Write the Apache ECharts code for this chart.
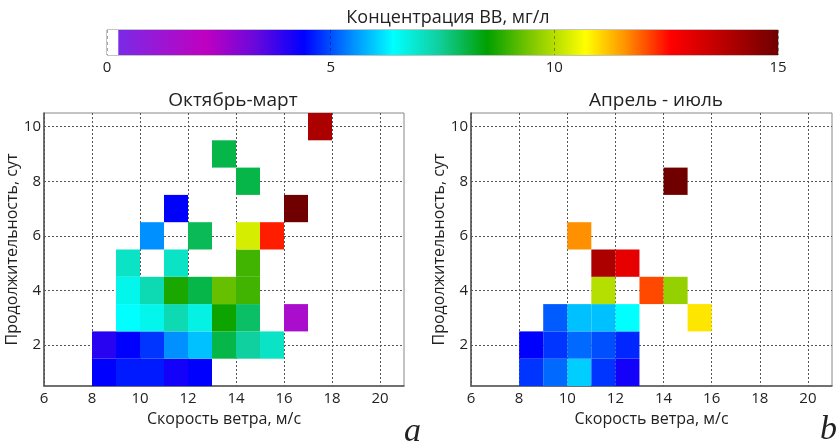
<!DOCTYPE html>
<html><head><meta charset="utf-8">
<script src="https://cdn.jsdelivr.net/npm/echarts@6/dist/echarts.min.js"></script>
<style>html,body{margin:0;padding:0;background:#fff}#c{width:840px;height:442px}</style>
</head><body><div id="c"></div>
<script>
// Tick labels
const xTicks = [6, 8, 10, 12, 14, 16, 18, 20];
const yTicks = [2, 4, 6, 8, 10];
const cbTicks = [0, 5, 10, 15];
// Cells: [wind speed bin start (m/s), duration (days), concentration (mg/l)]
const winterCells = [
  [8,1,4.4],[9,1,4.6],[10,1,4.6],[11,1,4.2],[12,1,4.4],
  [8,2,4.0],[9,2,4.4],[10,2,4.8],[11,2,5.5],[12,2,5.9],[13,2,8.0],[14,2,7.4],[15,2,7.0],
  [9,3,6.4],[10,3,6.6],[11,3,7.2],[12,3,6.7],[13,3,8.6],[14,3,7.8],[16,3,1.6],
  [9,4,6.6],[10,4,7.2],[11,4,8.7],[12,4,8.0],[13,4,9.3],[14,4,9.0],
  [9,5,7.0],[11,5,7.0],[14,5,9.0],
  [10,6,5.5],[12,6,7.9],[14,6,10.3],[15,6,12.4],
  [11,7,4.4],[16,7,15.0],
  [14,8,8.0],
  [13,9,8.0],
  [17,10,14.0]
];
const summerCells = [
  [8,1,4.8],[9,1,5.2],[10,1,6.0],[11,1,4.8],[12,1,4.2],
  [8,2,4.4],[9,2,4.8],[10,2,5.2],[11,2,5.0],[12,2,4.7],
  [9,3,5.1],[10,3,5.9],[11,3,5.9],[12,3,6.4],[15,3,10.9],
  [11,4,10.0],[13,4,12.1],[14,4,9.7],
  [11,5,14.0],[12,5,13.0],
  [10,6,11.6],
  [14,8,15.0]
];
// Colour scale: [value, colour]
const colourStops = [
  [0,'#ffffff'],[0.25,'#ffffff'],[0.26,'#7a2ae6'],[2.2,'#c000c0'],[3.3,'#6a08dc'],
  [4.4,'#0000ff'],[5.5,'#0090ff'],[6.4,'#00ffff'],[7.4,'#10d0a0'],[8.5,'#00a000'],
  [9.5,'#80c800'],[10.7,'#ffff00'],[11.6,'#ff9000'],[12.6,'#ff0000'],[15,'#700000']
];
const vMax = 15;

function hex2rgb(h){return [parseInt(h.slice(1,3),16),parseInt(h.slice(3,5),16),parseInt(h.slice(5,7),16)];}
function colourOf(v){
  if (v <= colourStops[0][0]) return colourStops[0][1];
  for (let i = 1; i < colourStops.length; i++) {
    if (v <= colourStops[i][0]) {
      const a = colourStops[i-1], b = colourStops[i];
      const t = (v - a[0]) / (b[0] - a[0]);
      const ca = hex2rgb(a[1]), cb = hex2rgb(b[1]);
      const c = ca.map((x, k) => Math.round(x + (cb[k] - x) * t));
      return 'rgb(' + c.join(',') + ')';
    }
  }
  return colourStops[colourStops.length-1][1];
}

const FONT = 'Open Sans';
const txt = '#222';

function renderCell(params, api){
  const x = api.value(0), y = api.value(1), v = api.value(2);
  const p0 = api.coord([x, y + 0.5]);
  const p1 = api.coord([x + 1, y - 0.5]);
  return {type:'rect', shape:{x:p0[0], y:p0[1], width:p1[0]-p0[0], height:p1[1]-p0[1]}, style:{fill: colourOf(v)}};
}

function xAxisFor(idx){
  return {
    type:'value', gridIndex:idx, min:6, max:21,
    name:'Скорость ветра, м/с', nameLocation:'middle', nameGap:25,
    nameTextStyle:{fontFamily:FONT, fontSize:16, color:txt},
    axisLine:{show:true, lineStyle:{color:'#555', width:1.5}},
    axisTick:{show:false, customValues:xTicks},
    axisLabel:{customValues:xTicks, fontFamily:FONT, fontSize:15, color:txt, margin:5},
    splitLine:{show:true, lineStyle:{color:'#555', type:[2,2], width:1}}
  };
}
function yAxisFor(idx){
  return {
    type:'value', gridIndex:idx, min:0.5, max:10.5,
    name:'Продолжительность, сут', nameLocation:'middle', nameGap:22,
    nameTextStyle:{fontFamily:FONT, fontSize:16, color:txt},
    axisLine:{show:true, lineStyle:{color:'#555', width:1.5}},
    axisTick:{show:false, customValues:yTicks},
    axisLabel:{customValues:yTicks, fontFamily:FONT, fontSize:15, color:txt, margin:3},
    splitLine:{show:true, lineStyle:{color:'#555', type:[2,2], width:1}}
  };
}

const gradStops = colourStops.map(s => ({offset: s[0] / vMax, color: s[1]}));

const option = {
  animation:false,
  backgroundColor:'#fff',
  title:[
    {text:'Концентрация ВВ, мг/л', left:443, top:4, textAlign:'center', textStyle:{fontFamily:FONT, fontSize:18, fontWeight:'normal', color:txt}},
    {text:'Октябрь-март', left:228, top:86, textAlign:'center', textStyle:{fontFamily:FONT, fontSize:19, fontWeight:'normal', color:txt}},
    {text:'Апрель - июль', left:651, top:86, textAlign:'center', textStyle:{fontFamily:FONT, fontSize:19, fontWeight:'normal', color:txt}},
    {text:'a', left:399, top:410, textStyle:{fontFamily:'Liberation Serif', fontStyle:'italic', fontSize:34, fontWeight:'normal', color:txt}},
    {text:'b', left:815, top:408, textStyle:{fontFamily:'Liberation Serif', fontStyle:'italic', fontSize:34, fontWeight:'normal', color:txt}}
  ],
  grid:[
    {left:44, top:113, width:360, height:273, show:true, borderColor:'#888', borderWidth:1, containLabel:false},
    {left:471, top:113, width:361, height:273, show:true, borderColor:'#888', borderWidth:1, containLabel:false},
    {left:107, top:30, width:671, height:25, show:true, borderColor:'#888', borderWidth:1, containLabel:false}
  ],
  xAxis:[
    xAxisFor(0), xAxisFor(1),
    {type:'value', gridIndex:2, min:0, max:vMax, z:5,
     axisLine:{show:false}, axisTick:{show:false, customValues:cbTicks},
     axisLabel:{customValues:cbTicks, fontFamily:FONT, fontSize:15, color:txt, margin:5},
     splitLine:{show:true, lineStyle:{color:'rgba(0,0,0,0.35)', type:[3,3], width:1}}}
  ],
  yAxis:[
    yAxisFor(0), yAxisFor(1),
    {type:'value', gridIndex:2, min:0, max:1, show:false}
  ],
  series:[
    {type:'custom', xAxisIndex:0, yAxisIndex:0, data:winterCells, renderItem:renderCell, encode:{x:0, y:1}, silent:true},
    {type:'custom', xAxisIndex:1, yAxisIndex:1, data:summerCells, renderItem:renderCell, encode:{x:0, y:1}, silent:true},
    {type:'custom', xAxisIndex:2, yAxisIndex:2, data:[[0, vMax]], encode:{x:[0,1]}, silent:true, z:1,
     renderItem:function(params, api){
       const p0 = api.coord([api.value(0), 1]);
       const p1 = api.coord([api.value(1), 0]);
       return {type:'rect', shape:{x:p0[0], y:p0[1], width:p1[0]-p0[0], height:p1[1]-p0[1]},
         style:{fill:new echarts.graphic.LinearGradient(0,0,1,0,gradStops)}};
     }}
  ]
};
const chart = echarts.init(document.getElementById('c'), null, {renderer:'canvas'});
chart.setOption(option);
</script></body></html>
